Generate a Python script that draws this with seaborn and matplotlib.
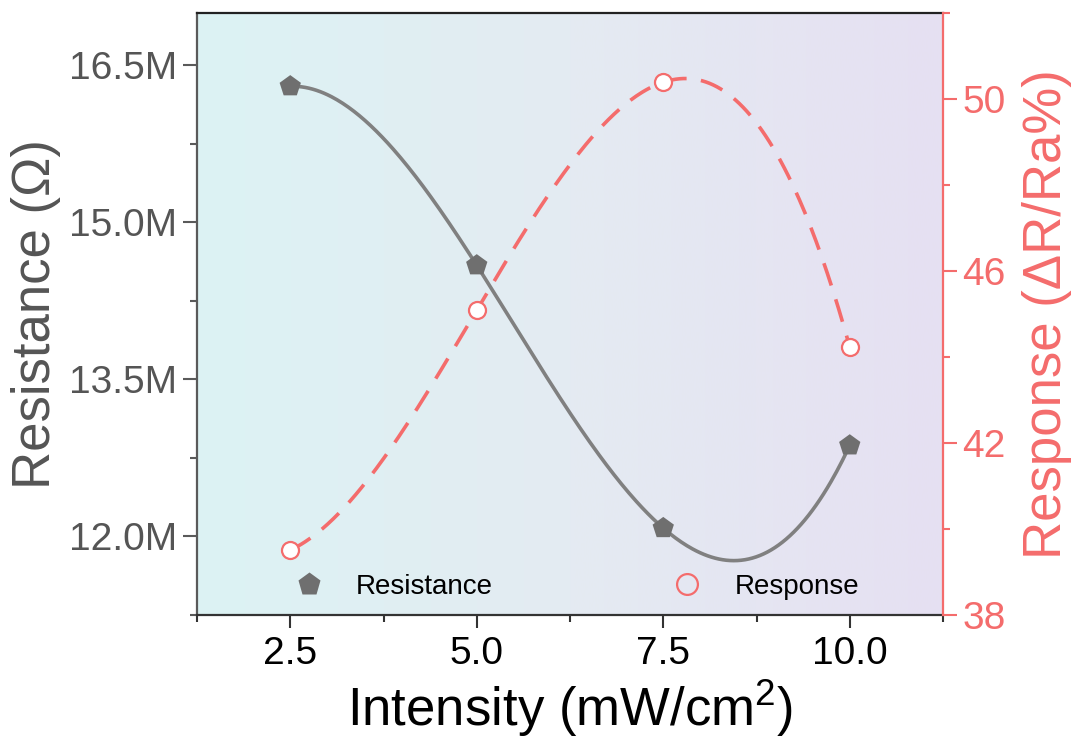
import numpy as np
import matplotlib
matplotlib.use("Agg")
import matplotlib.pyplot as plt
import seaborn as sns
from matplotlib.ticker import FuncFormatter, MultipleLocator
from matplotlib.colors import LinearSegmentedColormap
from matplotlib.lines import Line2D

# ---- data ----
intensity = [2.5, 5.0, 7.5, 10.0]
resistance = [16.30e6, 14.59e6, 12.08e6, 12.87e6]
response = [39.51, 45.09, 50.39, 44.23]
x_ticks = [2.5, 5.0, 7.5, 10.0]
res_ticks = [12.0e6, 13.5e6, 15.0e6, 16.5e6]
resp_ticks = [38, 42, 46, 50]

sns.set_style("ticks")
plt.rcParams["font.family"] = ["Liberation Sans", "DejaVu Sans"]
plt.rcParams["mathtext.fontset"] = "custom"
plt.rcParams["mathtext.rm"] = "Liberation Sans"
plt.rcParams["mathtext.default"] = "regular"

GRAY = "#6f6f6f"
LINEGRAY = "#808080"
AXGRAY = "#5a5a5a"
RED = "#f46c6c"

fig = plt.figure(figsize=(10.75, 7.4), dpi=100)
ax = fig.add_axes([197 / 1075, 1 - 615 / 740, (943 - 197) / 1075, (615 - 13) / 740])
ax2 = ax.twinx()

# background gradient
cmap = LinearSegmentedColormap.from_list("bg", ["#dcf3f4", "#e4ebf2", "#e6e0f2"])
grad = np.linspace(0, 1, 256).reshape(1, -1)
ax.imshow(grad, extent=[0, 1, 0, 1], transform=ax.transAxes, aspect="auto",
          cmap=cmap, zorder=0, interpolation="bicubic")

xs = np.linspace(min(intensity), max(intensity), 300)
res_fit = np.polyval(np.polyfit(intensity, resistance, 3), xs)
resp_fit = np.polyval(np.polyfit(intensity, response, 3), xs)

sns.lineplot(x=xs, y=res_fit, ax=ax, color=LINEGRAY, lw=2.6, zorder=2)
sns.scatterplot(x=intensity, y=resistance, ax=ax, marker="p", s=260,
                color=GRAY, edgecolor="none", zorder=3)

sns.lineplot(x=xs, y=resp_fit, ax=ax2, color=RED, lw=2.6, zorder=2)
ax2.lines[0].set_dashes([6.5, 4])
sns.scatterplot(x=intensity, y=response, ax=ax2, marker="o", s=150,
                color="white", edgecolor=RED, linewidth=1.6, zorder=3)

# limits and ticks
ax.set_xlim(1.25, 11.25)
ax.set_xticks(x_ticks)
ax.xaxis.set_minor_locator(MultipleLocator(1.25))
ax.set_ylim(11.25e6, 17.0e6)
ax.set_yticks(res_ticks)
ax.yaxis.set_minor_locator(MultipleLocator(0.75e6))
ax.yaxis.set_major_formatter(FuncFormatter(lambda v, p: f"{v/1e6:.1f}M"))
ax.xaxis.set_major_formatter(FuncFormatter(lambda v, p: f"{v:.1f}"))

ax2.set_ylim(38, 52)
ax2.set_yticks(resp_ticks)
ax2.yaxis.set_minor_locator(MultipleLocator(2))

# spines
for s in ["left", "top", "bottom"]:
    ax2.spines[s].set_visible(False)
ax.spines["right"].set_visible(False)
ax.spines["left"].set_color(AXGRAY)
ax.spines["bottom"].set_color("#333333")
ax.spines["top"].set_color("#222222")
ax2.spines["right"].set_color(RED)
for sp in list(ax.spines.values()) + [ax2.spines["right"]]:
    sp.set_linewidth(1.6)

ax.tick_params(axis="y", which="major", direction="out", length=10, width=1.5,
               color=AXGRAY, labelcolor="#555555", labelsize=28, pad=4)
ax.tick_params(axis="y", which="minor", direction="out", length=5, width=1.5, color=AXGRAY)
ax.tick_params(axis="x", which="major", direction="out", length=9, width=1.5,
               color="#333333", labelcolor="black", labelsize=28, pad=6)
ax.tick_params(axis="x", which="minor", direction="out", length=5, width=1.5, color="#333333")
ax2.tick_params(axis="y", which="major", direction="out", length=10, width=1.5,
                color=RED, labelcolor=RED, labelsize=28, pad=4)
ax2.tick_params(axis="y", which="minor", direction="out", length=5, width=1.5, color=RED)

ax.set_xlabel("Intensity (mW/cm$^2$)", fontsize=38, color="black", labelpad=4)
ax.set_ylabel("Resistance (Ω)", fontsize=38, color="#555555", labelpad=6)
ax2.set_ylabel("Response (ΔR/Ra%)", fontsize=38, color=RED, labelpad=12)

handles = [
    Line2D([], [], ls="none", marker="p", markersize=17, color=GRAY, markeredgecolor="none"),
    Line2D([], [], ls="none", marker="o", markersize=15, markerfacecolor="none",
           markeredgecolor=RED, markeredgewidth=1.6),
]
leg = ax2.legend(handles, ["Resistance", "Response"], ncol=2, frameon=False,
                 loc="center left", bbox_to_anchor=(0.131, 0.047), borderaxespad=0,
                 borderpad=0, handlelength=1.0, handletextpad=1.2, columnspacing=6.5,
                 fontsize=20)
for t in leg.get_texts():
    t.set_color("black")

fig.savefig("out.png", dpi=100)
